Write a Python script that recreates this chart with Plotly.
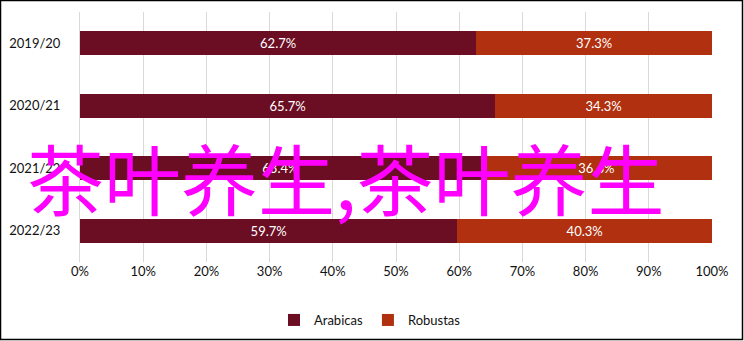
import plotly.graph_objects as go

categories = ["2019/20", "2020/21", "2021/22", "2022/23"]
arabicas = [62.7, 65.7, 63.4, 59.7]
robustas = [37.3, 34.3, 36.6, 40.3]
x_ticks = [0, 10, 20, 30, 40, 50, 60, 70, 80, 90, 100]
x_tick_labels = [f"{v}%" for v in x_ticks]
watermark = "茶叶养生,茶叶养生"

W, H = 744, 341
L, R, T, B = 80, 32, 12, 79
pw, ph = W - L - R, H - T - B

font_family = "Lato, 'Open Sans', sans-serif"

fig = go.Figure()
fig.add_trace(go.Bar(
    name="Arabicas", y=categories, x=arabicas, orientation="h",
    marker=dict(color="#6b0d23", line=dict(width=0)),
    texttemplate="%{x:.1f}%", textposition="inside", insidetextanchor="middle",
    textfont=dict(color="white", size=13, family=font_family),
))
fig.add_trace(go.Bar(
    name="Robustas", y=categories, x=robustas, orientation="h",
    marker=dict(color="#b0300f", line=dict(width=0)),
    texttemplate="%{x:.1f}%", textposition="inside", insidetextanchor="middle",
    textfont=dict(color="white", size=13, family=font_family),
))

fig.update_layout(
    width=W, height=H,
    margin=dict(l=L, r=R, t=T, b=B, autoexpand=False),
    barmode="stack", bargap=0.62,
    plot_bgcolor="white", paper_bgcolor="white",
    font=dict(family=font_family, size=13, color="#111"),
    xaxis=dict(range=[0, 100], tickvals=x_ticks, ticktext=x_tick_labels,
               showgrid=True, gridcolor="#d9d9d9", gridwidth=1,
               zeroline=False, showline=False, ticks="", fixedrange=True,
               tickfont=dict(size=13, color="#111")),
    yaxis=dict(autorange="reversed", showline=True, linecolor="#d9d9d9", linewidth=1,
               ticks="", ticklabelstandoff=16, showgrid=False,
               tickfont=dict(size=13, color="#111")),
    legend=dict(orientation="h", x=(370 - L) / pw, xanchor="center",
                y=(ph - (320 - T)) / ph, yanchor="middle",
                font=dict(size=13, color="#111"), traceorder="normal",
                itemwidth=30),
    showlegend=True,
)

fig.add_annotation(
    text=watermark, xref="paper", yref="paper",
    x=(345 - L) / pw, y=(ph - (177 - T)) / ph,
    xanchor="center", yanchor="middle", showarrow=False,
    font=dict(size=77, color="#ff00ff", family="Noto Sans CJK SC"),
)

fig.add_shape(
    type="rect", xref="paper", yref="paper",
    x0=(0.5 - L) / pw, x1=(W - 1.5 - L) / pw,
    y0=(ph - (H - 1.5 - T)) / ph, y1=(ph - (0.5 - T)) / ph,
    line=dict(color="black", width=1.5), fillcolor="rgba(0,0,0,0)", layer="above",
)

fig.write_html("out.html")
